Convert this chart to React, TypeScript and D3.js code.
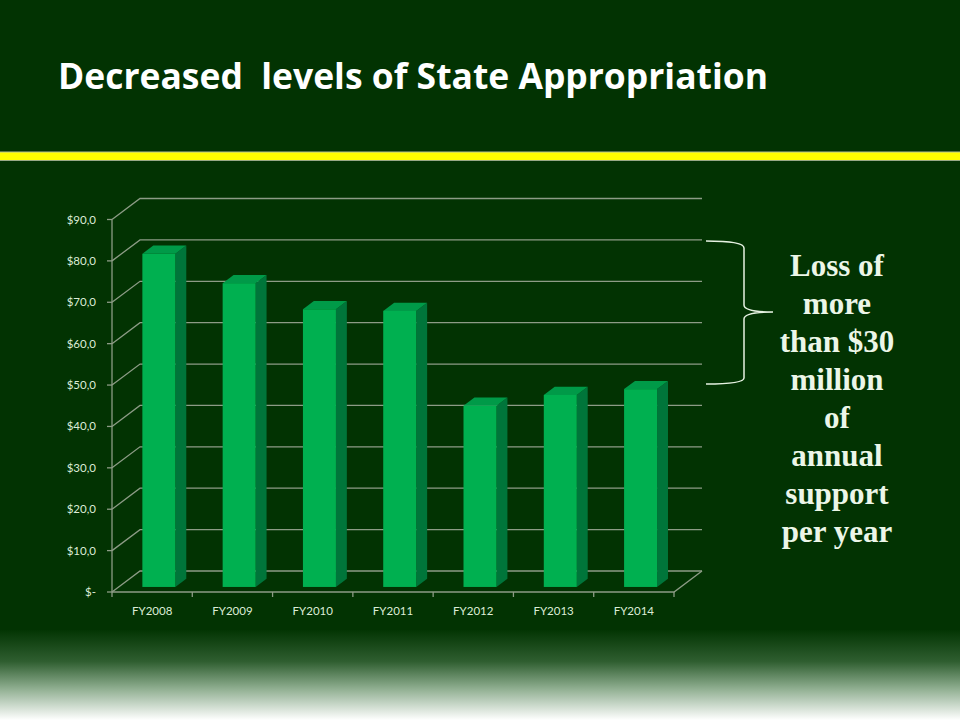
import * as d3 from "d3"

const categories = ["FY2008", "FY2009", "FY2010", "FY2011", "FY2012", "FY2013", "FY2014"]
const appropriation = [80.5, 73.4, 67.1, 66.7, 43.8, 46.4, 47.8]
const yTicks = [0, 10, 20, 30, 40, 50, 60, 70, 80, 90]
const noteLines = ["Loss of", "more", "than $30", "million", "of", "annual", "support", "per year"]

const W = 960
const H = 720

// 3D depth of the plot box
const DX = 28
const DY = 21
const F0 = 0.24 // bar front depth
const F1 = 0.63 // bar back depth
const BAR_W = 33

const fmt = (v: number) => (v === 0 ? "$-" : `$${v.toFixed(1).replace(".", ",")}`)

export default function App() {
  const x = d3.scaleBand().domain(categories).range([112, 674]).padding(0)
  const y = d3.scaleLinear().domain([0, 90]).range([592, 219.5])

  const grid = "#8d9c86"
  const labelColor = "#dcecd6"

  const bars = categories.map((c, i) => {
    const v = appropriation[i]
    const base = (x(c) || 0) + (x.bandwidth() - BAR_W) / 2
    const xl = base + F0 * DX
    const xr = xl + BAR_W
    const yt = y(v) - F0 * DY
    const yb = y(0) - F0 * DY
    const dx = (F1 - F0) * DX
    const dy = (F1 - F0) * DY
    return { c, xl, xr, yt, yb, dx, dy }
  })

  return (
    <svg
      width={W}
      height={H}
      style={{ position: "fixed", left: 0, top: 0, display: "block" }}
      fontFamily="Lato, 'Open Sans', sans-serif"
    >
      <defs>
        <linearGradient id="bottomFade" x1="0" y1="0" x2="0" y2="1">
          <stop offset="0" stopColor="#033503" />
          <stop offset="0.35" stopColor="#2f5e30" />
          <stop offset="0.65" stopColor="#8fae90" />
          <stop offset="1" stopColor="#ffffff" />
        </linearGradient>
      </defs>
      <rect width={W} height={H} fill="#023302" />
      <rect x={0} y={630} width={W} height={90} fill="url(#bottomFade)" />

      <text
        x={58}
        y={89}
        fill="#ffffff"
        fontFamily="'Open Sans', Lato, sans-serif"
        fontSize={36}
        fontWeight={700}
        xmlSpace="preserve"
        textLength={710}
        lengthAdjust="spacingAndGlyphs"
      >
        Decreased  levels of State Appropriation
      </text>

      <rect x={0} y={152} width={W} height={8} fill="#ffff00" />
      <line x1={0} x2={W} y1={152} y2={152} stroke="#b8c49a" strokeWidth={1} />
      <line x1={0} x2={W} y1={160.5} y2={160.5} stroke="#9aaa88" strokeWidth={1} />

      {/* walls */}
      {yTicks.map((t) => (
        <g key={t}>
          <polyline
            points={`${x.range()[0]},${y(t)} ${x.range()[0] + DX},${y(t) - DY} ${x.range()[1] + DX},${y(t) - DY}`}
            fill="none"
            stroke={grid}
            strokeWidth={1.3}
          />
          <line x1={107} x2={112} y1={y(t)} y2={y(t)} stroke={grid} strokeWidth={1.3} />
          <text x={96} y={y(t)} dy="0.35em" textAnchor="end" fontSize={11.5} fill={labelColor}>
            {fmt(t)}
          </text>
        </g>
      ))}
      <line x1={112} x2={112} y1={y(90)} y2={y(0)} stroke={grid} strokeWidth={1.3} />

      {/* floor */}
      <polyline
        points={`${x.range()[0]},${y(0)} ${x.range()[1]},${y(0)} ${x.range()[1] + DX},${y(0) - DY}`}
        fill="none"
        stroke={grid}
        strokeWidth={1.3}
      />
      {categories.concat("end").map((c, i) => {
        const xx = x.range()[0] + i * x.bandwidth()
        return <line key={c} x1={xx} x2={xx} y1={y(0)} y2={y(0) + 5} stroke={grid} strokeWidth={1.3} />
      })}

      {bars.map((b) => (
        <g key={b.c}>
          <polygon
            points={`${b.xr},${b.yt} ${b.xr + b.dx},${b.yt - b.dy} ${b.xr + b.dx},${b.yb - b.dy} ${b.xr},${b.yb}`}
            fill="#00753a"
          />
          <polygon
            points={`${b.xl},${b.yt} ${b.xl + b.dx},${b.yt - b.dy} ${b.xr + b.dx},${b.yt - b.dy} ${b.xr},${b.yt}`}
            fill="#009a48"
          />
          <rect x={b.xl} y={b.yt} width={BAR_W} height={b.yb - b.yt} fill="#00b050" />
        </g>
      ))}

      {categories.map((c) => (
        <text
          key={c}
          x={(x(c) || 0) + x.bandwidth() / 2}
          y={615}
          textAnchor="middle"
          fontSize={11.5}
          fill={labelColor}
        >
          {c}
        </text>
      ))}

      {/* brace */}
      <path
        d="M706,241 C730,241 744,243 744,248 L744,305 C744,310 755,312 773,312 C755,312 744,314 744,319 L744,378 C744,382 730,384 706,384"
        fill="none"
        stroke="#e6f2e2"
        strokeWidth={1.5}
      />

      {noteLines.map((l, i) => (
        <text
          key={l}
          x={837}
          y={276 + i * 38}
          textAnchor="middle"
          fontFamily="'Liberation Serif', 'DejaVu Serif', serif"
          fontWeight={700}
          fontSize={31}
          fill="#ecf6e8"
        >
          {l}
        </text>
      ))}
    </svg>
  )
}
